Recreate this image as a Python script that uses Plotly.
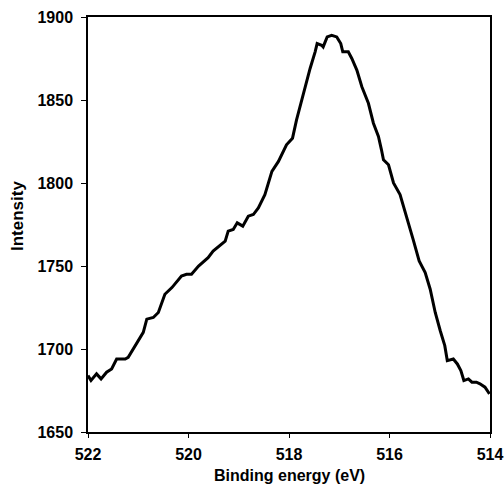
import plotly.graph_objects as go

energy = [522.00, 521.94, 521.83, 521.74, 521.63, 521.53, 521.43, 521.26, 521.20, 521.00,
          520.90, 520.83, 520.70, 520.60, 520.47, 520.33, 520.14, 520.04, 519.94, 519.80,
          519.61, 519.51, 519.34, 519.27, 519.21, 519.11, 519.03, 518.92, 518.81, 518.71,
          518.61, 518.48, 518.34, 518.21, 518.05, 517.93, 517.85, 517.75, 517.68, 517.58,
          517.48, 517.44, 517.35, 517.32, 517.24, 517.15, 517.05, 516.97, 516.93, 516.82,
          516.75, 516.65, 516.55, 516.42, 516.32, 516.22, 516.16, 516.12, 516.02, 515.92,
          515.79, 515.69, 515.53, 515.41, 515.29, 515.19, 515.09, 514.99, 514.90, 514.85,
          514.73, 514.65, 514.58, 514.52, 514.43, 514.36, 514.27, 514.20, 514.10, 514.01]
intensity = [1684, 1681, 1685, 1682, 1686, 1688, 1694, 1694, 1695, 1705,
             1710, 1718, 1719, 1722, 1733, 1737, 1744, 1745, 1745, 1750,
             1755, 1759, 1763, 1765, 1771, 1772, 1776, 1774, 1780, 1781,
             1785, 1793, 1807, 1813, 1823, 1827, 1838, 1850, 1858, 1869,
             1879, 1884, 1883, 1882, 1888, 1889, 1888, 1884, 1879, 1879,
             1875, 1868, 1858, 1848, 1836, 1828, 1820, 1814, 1811, 1800,
             1793, 1782, 1766, 1753, 1746, 1736, 1722, 1711, 1702, 1693,
             1694, 1691, 1687, 1681, 1682, 1680, 1680, 1679, 1677, 1673]

x_ticks = [522, 520, 518, 516, 514]
y_ticks = [1650, 1700, 1750, 1800, 1850, 1900]
x_title = "Binding energy (eV)"
y_title = "Intensity"

fig = go.Figure()
fig.add_trace(go.Scatter(x=energy, y=intensity, mode="lines",
                         line=dict(color="black", width=3), showlegend=False))

fam = "Liberation Sans, Arial, sans-serif"
tick_font = dict(family=fam, size=16, color="black", weight="bold")
fig.update_layout(
    width=504, height=492,
    margin=dict(l=88, r=14, t=17, b=60),
    paper_bgcolor="white", plot_bgcolor="white",
    font=dict(family=fam, size=16, color="black"),
    xaxis=dict(range=[522, 514], tickvals=x_ticks, ticks="outside", ticklen=4,
               tickwidth=1, tickcolor="black", showline=True, linecolor="black",
               linewidth=1.5, mirror=True, showgrid=False, zeroline=False,
               ticklabelstandoff=3, tickfont=tick_font, automargin=False),
    yaxis=dict(range=[1650, 1900], tickvals=y_ticks, ticks="outside", ticklen=5,
               tickwidth=1, tickcolor="black", showline=True, linecolor="black",
               linewidth=1.5, mirror=True, showgrid=False, zeroline=False,
               ticklabelstandoff=5, tickfont=tick_font, automargin=False),
    annotations=[
        dict(text=x_title, xref="paper", yref="paper", x=0.5, y=-0.104,
             xanchor="center", yanchor="middle", showarrow=False,
             font=dict(family=fam, size=16, color="black", weight="bold")),
        dict(text=y_title, xref="paper", yref="paper", x=-0.177, y=0.52,
             xanchor="center", yanchor="middle", showarrow=False, textangle=-90,
             font=dict(family=fam, size=17, color="black", weight="bold")),
    ],
)
fig.write_html("out.html")
